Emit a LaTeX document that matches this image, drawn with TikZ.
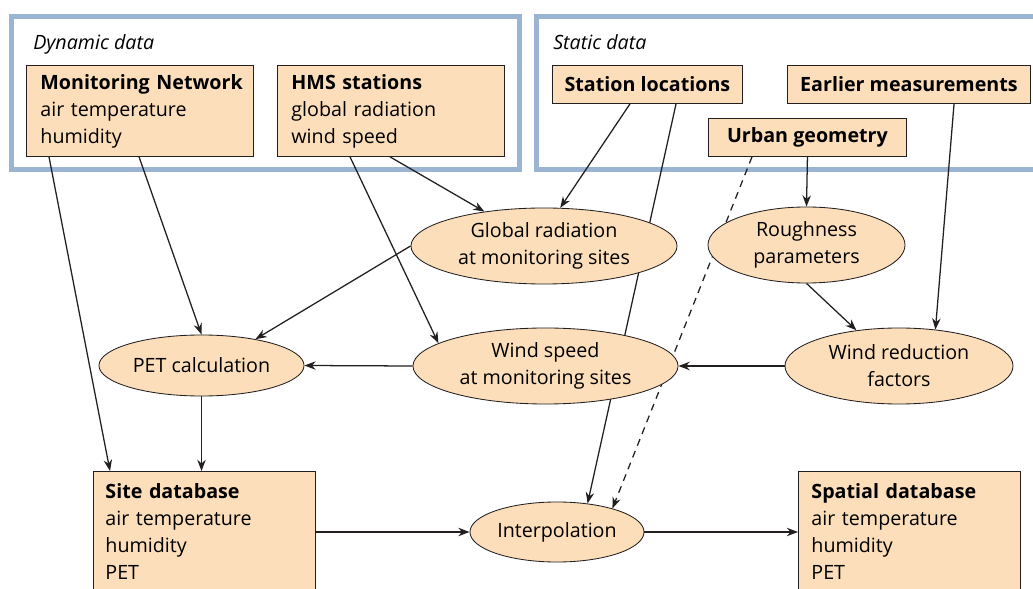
\documentclass[tikz,border=0pt]{standalone}
\usepackage{fontspec}
\setmainfont{Open Sans}
\usetikzlibrary{arrows.meta,shapes.geometric,backgrounds}

\definecolor{peach}{RGB}{253,222,186}
\definecolor{frameblue}{RGB}{155,180,212}
\definecolor{inkline}{RGB}{35,31,32}
\newcommand{\fsize}{\fontsize{14}{19.2}\selectfont}

\tikzset{
  databox/.style={draw=inkline, fill=peach, line width=0.6pt, anchor=north west, align=left},
  namebox/.style={databox, font=\fsize\bfseries, align=center, inner sep=0pt, minimum height=0.95cm},
  process/.style={ellipse, draw=inkline, fill=peach, line width=0.6pt, inner xsep=-15pt, inner ysep=0pt, align=center},
  groupframe/.style={draw=frameblue, line width=3.6pt},
  grouplabel/.style={anchor=base west, font=\fsize\itshape, inner sep=0pt},
  flow/.style={draw=inkline, line width=0.9pt, -{Stealth[length=2.8mm,width=2.1mm]}},
}

\begin{document}
\begin{tikzpicture}[x=0.025cm, y=-0.025cm, every node/.style={font=\fsize}]
\useasboundingbox (0,0) rectangle (1033,589);

% inputs
\node[grouplabel] (dynlbl) at (33,50) {Dynamic data};
\node[grouplabel] (statlbl) at (553,50) {Static data};
\node[databox, text width=4.975cm, inner xsep=0.35cm, minimum height=2.275cm] (monnet) at (26,65)
  {\mbox{\textbf{Monitoring Network}}\\air temperature\\humidity};
\node[databox, text width=4.975cm, inner xsep=0.35cm, minimum height=2.275cm] (hms) at (277,65)
  {\textbf{HMS stations}\\global radiation\\wind speed};
\node[namebox, minimum width=4.75cm] (stloc) at (552,65) {Station locations};
\node[namebox, minimum width=6.075cm] (earlier) at (787,65) {Earlier measurements};
\node[namebox, minimum width=4.95cm] (urban) at (708,118) {Urban geometry};

% processing
\node[process, minimum width=6.65cm, minimum height=1.9cm] (globrad) at (544,246) {Global radiation\\at monitoring sites};
\node[process, minimum width=4.925cm, minimum height=1.9cm] (rough) at (806.5,245) {Roughness\\parameters};
\node[process, minimum width=5.125cm, minimum height=1.525cm] (petcalc) at (201.5,365.5) {PET calculation};
\node[process, minimum width=6.625cm, minimum height=1.9cm] (windsp) at (545.5,366) {Wind speed\\at monitoring sites};
\node[process, minimum width=5.7cm, minimum height=1.9cm] (windred) at (899,366) {Wind reduction\\factors};
\node[process, minimum width=4.35cm, minimum height=1.5cm] (interp) at (557,532) {Interpolation};

% outputs
\node[databox, text width=4.95cm, inner xsep=0.3cm, inner ysep=0.3cm, text depth=2.6cm] (sitedb) at (93,471)
  {\textbf{Site database}\\air temperature\\humidity\\PET};
\node[databox, text width=4.9cm, inner xsep=0.325cm, inner ysep=0.3cm, text depth=2.6cm] (spatdb) at (798,471)
  {\textbf{Spatial database}\\air temperature\\humidity\\PET};

\begin{scope}[on background layer]
  \draw[groupframe] (11.5,16.5) rectangle (519.5,169.5);
  \draw[groupframe] (536.5,16.5) rectangle (1045,169.5);

  \draw[flow] ([xshift=0.575cm]monnet.south west) -- ([xshift=0.425cm]sitedb.north west);
  \draw[flow] ([xshift=2.825cm]monnet.south west) -- (petcalc.north);
  \draw[flow] ([xshift=1.825cm]hms.south west) -- (windsp.168);
  \draw[flow] ([xshift=2.825cm]hms.south west) -- (globrad.150);
  \draw[flow] ([xshift=1.95cm]stloc.south west) -- (globrad.67);
  \draw[flow] ([xshift=3.1cm]stloc.south west) -- (interp.43);
  \draw[flow, dash pattern=on 5pt off 4pt] ([xshift=1.1cm]urban.south west) -- (interp.23);
  \draw[flow] (urban.south) -- (rough.north);
  \draw[flow] ([xshift=4.175cm]earlier.south west) -- (windred.45);
  \draw[flow] (rough.south) -- (windred.140);
  \draw[flow] (globrad.west) -- (petcalc.26);
  \draw[flow] (windred.west) -- (windsp.east);
  \draw[flow] (windsp.west) -- (petcalc.east);
  \draw[flow] (petcalc.south) -- (petcalc.south |- sitedb.north);
  \draw[flow] (interp.west -| sitedb.east) -- (interp.west);
  \draw[flow] (interp.east) -- (interp.east -| spatdb.west);
\end{scope}

\end{tikzpicture}
\end{document}
